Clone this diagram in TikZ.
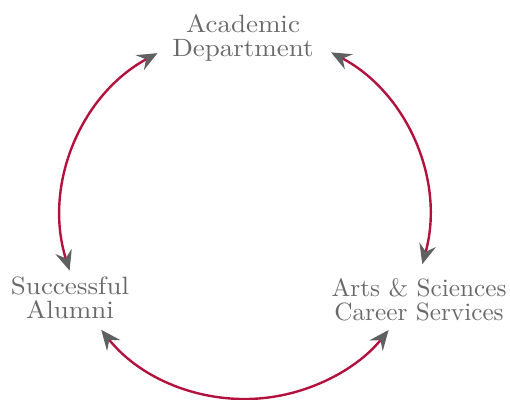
\documentclass[tikz,border=0pt]{standalone}
\usepackage{fontspec}
\newfontfamily\labfont{lmroman10-regular.otf}[FakeStretch=1.08]
\newfontfamily\labfontn{lmroman10-regular.otf}[FakeStretch=1.01]
\usetikzlibrary{arrows.meta,calc}
\definecolor{crim}{HTML}{B3123F}
\definecolor{txtgray}{HTML}{69696B}
\definecolor{tipgray}{HTML}{5F6062}
\begin{document}
\begin{tikzpicture}[x=1pt,y=1pt,
  lab/.style={font=\labfont\fontsize{25}{24.5}\selectfont, text=txtgray, align=center, inner sep=0pt},
  labn/.style={lab, font=\labfontn\fontsize{25}{24.5}\selectfont},
  conn/.style={draw=crim, line width=2.4pt,
    {Stealth[length=20pt,width=17pt,inset=7pt,color=tipgray]}-{Stealth[length=20pt,width=17pt,inset=7pt,color=tipgray]}}]
\useasboundingbox (0,0) rectangle (510,399);
\node[lab] (acad) at (243,361) {Academic\\Department};
\node[lab] (alum) at (70,101) {Successful\\Alumni};
\node[labn] (arts) at (419,99) {Arts \& Sciences\\Career Services};
\coordinate (ctr) at (245,184);
\coordinate (p1) at ([shift={(118.4:184)}]ctr);
\coordinate (p3) at ([shift={(218.6:184)}]ctr);
\coordinate (p5) at ([shift={(-15.5:184)}]ctr);
\draw[conn] (p1) arc[start angle=118.4,end angle=197.6,radius=184];
\draw[conn] (p3) arc[start angle=218.6,end angle=321.3,radius=184];
\draw[conn] (p5) arc[start angle=-15.5,end angle=62.1,radius=184];
\end{tikzpicture}
\end{document}
